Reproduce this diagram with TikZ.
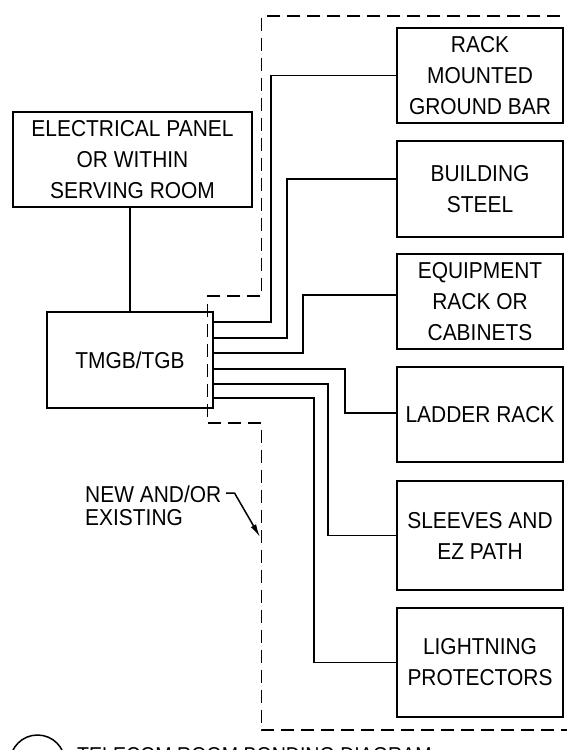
\documentclass[tikz,border=0pt]{standalone}
\usepackage{fontspec}
\setmainfont{Liberation Sans}[FakeStretch=0.91]
\usetikzlibrary{arrows.meta}
\begin{document}
\begin{tikzpicture}[x=1pt,y=-1pt,
  box/.style={draw, line width=1.7pt, align=center, inner sep=0pt, minimum width=166pt, font=\fontsize{23}{31}\selectfont},
  wire/.style={line width=1.7pt},
  bound/.style={line width=1.7pt, dash pattern=on 13pt off 7pt},
  notefont/.style={font=\fontsize{23}{23}\selectfont}
]
\useasboundingbox (0,0) rectangle (567,750);
\clip (0,0) rectangle (567,750);

% boxes
\node[box, minimum width=239pt, minimum height=95pt] (panel) at (132.5,159.5) {ELECTRICAL PANEL\\OR WITHIN\\SERVING ROOM};
\node[box, minimum height=96pt] (tmgb) at (130,360) {TMGB/TGB};
\node[box, minimum height=95pt] (rack) at (480,75.5) {RACK\\MOUNTED\\GROUND BAR};
\node[box, minimum height=96pt] (steel) at (480,189) {BUILDING\\STEEL};
\node[box, minimum height=95pt] (equip) at (480,301.5) {EQUIPMENT\\RACK OR\\CABINETS};
\node[box, minimum height=95pt] (ladder) at (480,414.5) {LADDER RACK};
\node[box, minimum height=109pt] (sleeves) at (480,535.5) {SLEEVES AND\\EZ PATH};
\node[box, minimum height=109pt] (light) at (480,662.5) {LIGHTNING\\PROTECTORS};

% dashed boundary
\draw[bound] (620,16) -- (261.5,16) -- (261.5,296) -- (207.5,296) -- (207.5,423) -- (261.5,423) -- (261.5,730) -- (620,730);

% connectors
\draw[wire] (tmgb.north |- panel.south) -- (tmgb.north);
\draw[wire] ([yshift=38pt]tmgb.east) -| ([xshift=-125pt]rack.west) -- (rack.west);
\draw[wire] ([yshift=22pt]tmgb.east) -| ([xshift=-109pt,yshift=10pt]steel.west) -- ([yshift=10pt]steel.west);
\draw[wire] ([yshift=7pt]tmgb.east) -| ([xshift=-93pt,yshift=6.5pt]equip.west) -- ([yshift=6.5pt]equip.west);
\draw[wire] ([yshift=-9pt]tmgb.east) -| ([xshift=-51pt,yshift=1.5pt]ladder.west) -- ([yshift=1.5pt]ladder.west);
\draw[wire] ([yshift=-24pt]tmgb.east) -| ([xshift=-68pt]sleeves.west) -- (sleeves.west);
\draw[wire] ([yshift=-38pt]tmgb.east) -| ([xshift=-82pt]light.west) -- (light.west);

% note with leader
\node[notefont, anchor=north west, inner sep=0pt, align=left] (note) at (85,486) {NEW AND/OR\\EXISTING};
\coordinate (ls) at (226,493);
\coordinate (lb) at (234.5,493);
\coordinate (tip) at (260,537);
\draw[line width=1.5pt, -{Latex[length=13pt,width=6pt]}] (ls) -- (lb) -- (tip);

% title
\node[draw, circle, minimum size=55pt, inner sep=0pt, line width=1.5pt] (circ) at (37.5,762.5) {};
\node[anchor=base west, inner sep=0pt, font=\fontsize{21.5}{26}\selectfont] (title) at (77,762) {TELECOM ROOM BONDING DIAGRAM};
\end{tikzpicture}
\end{document}
